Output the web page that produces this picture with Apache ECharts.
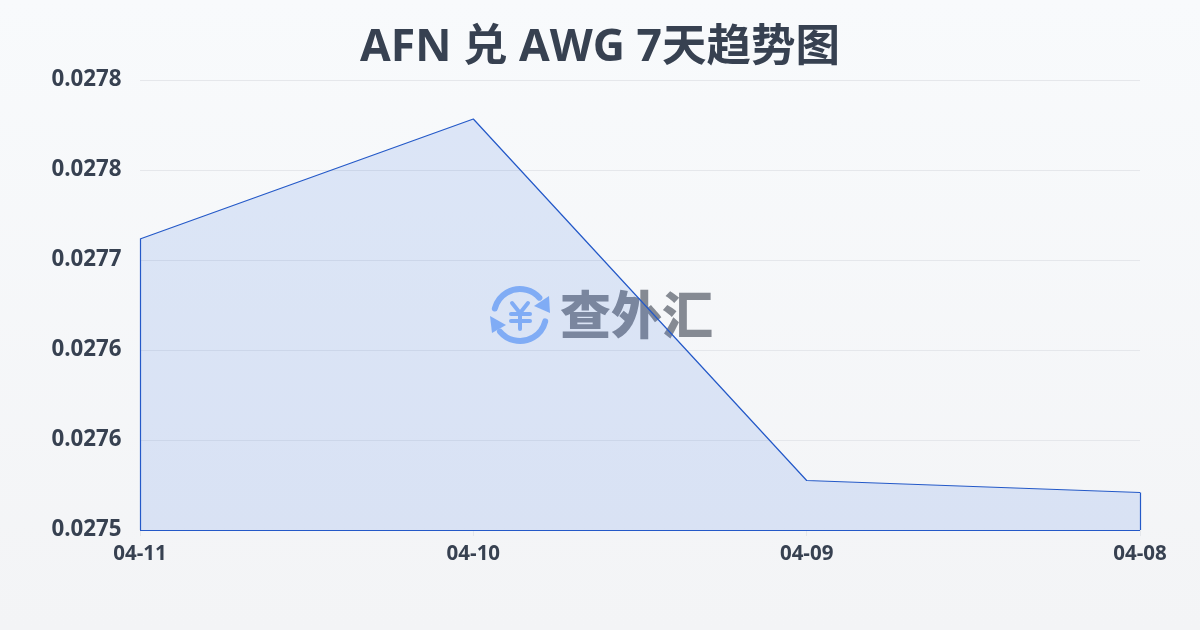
<!DOCTYPE html>
<html><head><meta charset="utf-8">
<style>html,body{margin:0;padding:0;width:1200px;height:630px;overflow:hidden}#c{width:1200px;height:630px}</style>
<script src="https://cdn.jsdelivr.net/npm/echarts@6/dist/echarts.min.js"></script>
</head><body><div id="c"></div>
<script>
const categories = ['04-11','04-10','04-09','04-08'];
const rates = [0.027714,0.027794,0.027553,0.027545];
const axisMin = 0.02752, axisMax = 0.02782, axisStep = 0.00006;
const titleText = 'AFN 兑 AWG 7天趋势图';
const logoText = '查外汇';
const ink = '#374151', blue = '#2459c8', logoBlue = '#8cb6f8';
const latin = '"Open Sans","Noto Sans CJK SC",sans-serif';
const yenStroke = {stroke:logoBlue,lineWidth:4,lineCap:'round',fill:null};
const chart = echarts.init(document.getElementById('c'));
chart.setOption({
  animation:false,
  backgroundColor:{type:'linear',x:0,y:0,x2:0,y2:1,colorStops:[{offset:0,color:'#f8fafc'},{offset:1,color:'#f3f4f6'}]},
  title:{text:titleText,left:'center',top:21,textStyle:{fontFamily:latin,fontWeight:'bold',fontSize:44.5,color:ink}},
  grid:{left:140,right:60,top:80,bottom:100},
  xAxis:{type:'category',data:categories,boundaryGap:false,
    axisLine:{show:false},
    axisTick:{show:true,length:6,lineStyle:{color:'#e5e7eb'}},
    axisLabel:{interval:0,margin:11,color:ink,fontFamily:latin,fontWeight:'bold',fontSize:20.5,lineHeight:26},
    splitLine:{show:false}},
  yAxis:{type:'value',min:axisMin,max:axisMax,interval:axisStep,
    axisLine:{show:false},axisTick:{show:false},
    axisLabel:{margin:18.5,color:ink,fontFamily:latin,fontWeight:'bold',fontSize:22.3,formatter:v=>v.toFixed(4)},
    splitLine:{show:true,lineStyle:{color:'#e5e7eb',width:1}}},
  graphic:[
    {type:'group',z:0,silent:true,children:[
      {type:'arc',shape:{cx:520,cy:315,r:26,startAngle:-2.89,endAngle:-0.73},style:{stroke:logoBlue,lineWidth:6,fill:null,lineCap:'round'}},
      {type:'arc',shape:{cx:520,cy:315,r:26,startAngle:0.25,endAngle:2.45},style:{stroke:logoBlue,lineWidth:6,fill:null,lineCap:'round'}},
      {type:'polygon',shape:{points:[[549,296],[550,313],[534,306]]},style:{fill:logoBlue}},
      {type:'polygon',shape:{points:[[490,316],[492,333],[506,325]]},style:{fill:logoBlue}},
      {type:'polyline',shape:{points:[[512,303],[520,313],[528,303]]},style:yenStroke},
      {type:'line',shape:{x1:511,y1:314,x2:530,y2:314},style:yenStroke},
      {type:'line',shape:{x1:511,y1:321,x2:530,y2:321},style:yenStroke},
      {type:'line',shape:{x1:520,y1:313,x2:520,y2:329},style:yenStroke},
      {type:'text',style:{text:logoText,x:560,y:315,align:'left',verticalAlign:'middle',fill:'#858a93',font:'900 51px "Noto Sans CJK SC",sans-serif'}}
    ]}
  ],
  series:[{
    type:'line',data:rates,symbol:'none',smooth:false,z:3,
    lineStyle:{color:blue,width:1.2},
    areaStyle:{origin:'start',color:'rgba(59,113,225,0.2)'},
    markLine:{silent:true,symbol:'none',label:{show:false},lineStyle:{color:blue,width:1.2,type:'solid'},
      data:[
        [{xAxis:categories[0],yAxis:rates[0]},{xAxis:categories[0],yAxis:axisMin}],
        [{xAxis:categories[3],yAxis:rates[3]},{xAxis:categories[3],yAxis:axisMin}],
        [{xAxis:categories[0],yAxis:axisMin},{xAxis:categories[3],yAxis:axisMin}]
      ]}
  }]
});
</script></body></html>
